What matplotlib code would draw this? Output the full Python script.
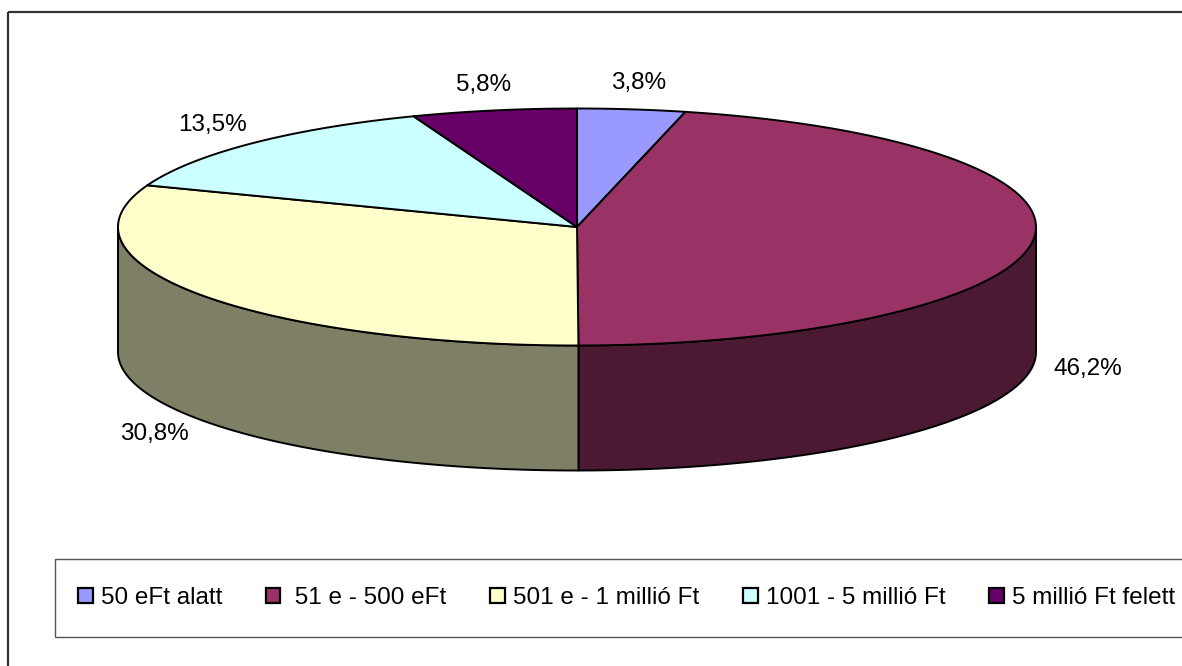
import numpy as np
import matplotlib.pyplot as plt
from matplotlib.patches import Polygon, Rectangle, Patch

plt.rcParams['font.family'] = ['Liberation Sans', 'DejaVu Sans']

# income bands and their shares (%)
categories = ["50 eFt alatt", " 51 e - 500 eFt", "501 e - 1 millió Ft",
              "1001 - 5 millió Ft", "5 millió Ft felett"]
shares = [3.8, 46.2, 30.8, 13.5, 5.8]
colors = ["#9999FF", "#993366", "#FFFFCC", "#CCFFFF", "#660066"]

W, H = 1182, 666
fig = plt.figure(figsize=(W / 100, H / 100), dpi=100)
ax = fig.add_axes([0, 0, 1, 1])
ax.set_xlim(0, W)
ax.set_ylim(H, 0)
ax.axis("off")

# pie geometry in pixels
cx, cy = 577, 227
a, b = 459, 118.5
depth = 125
fs = 17.5


def edge(t):
    t = np.radians(t)
    return cx + a * np.cos(t), cy - b * np.sin(t)


def darker(c):
    r, g, bl = (int(c[i:i + 2], 16) for i in (1, 3, 5))
    return "#%02x%02x%02x" % (r // 2, g // 2, bl // 2)


fracs = np.array(shares) / sum(shares)
bounds = 90 - 360 * np.concatenate([[0], np.cumsum(fracs)])

# side walls (front half only)
for i, c in enumerate(colors):
    t0, t1 = bounds[i], bounds[i + 1]
    for lo, hi in [(-180, 0), (-540, -360)]:
        s, e = min(t0, hi), max(t1, lo)
        if s <= e:
            continue
        t = np.linspace(s, e, 100)
        x, y = edge(t)
        pts = np.column_stack([np.concatenate([x, x[::-1]]),
                               np.concatenate([y, y[::-1] + depth])])
        ax.add_patch(Polygon(pts, closed=True, facecolor=darker(c),
                             edgecolor="black", lw=1.4, joinstyle="round"))

# top faces
for i, c in enumerate(colors):
    t = np.linspace(bounds[i], bounds[i + 1], 200)
    x, y = edge(t)
    pts = np.column_stack([np.concatenate([[cx], x]), np.concatenate([[cy], y])])
    ax.add_patch(Polygon(pts, closed=True, facecolor=c, edgecolor="black",
                         lw=1.4, joinstyle="round"))

# percentage labels
for i, v in enumerate(shares):
    m = np.radians((bounds[i] + bounds[i + 1]) / 2)
    lx = cx + 1.12 * a * np.cos(m)
    ly = cy - 1.22 * b * np.sin(m)
    if np.sin(m) < 0:
        ly += depth
    ax.text(lx, ly, f"{v:.1f}%".replace(".", ","), fontsize=fs,
            ha="center", va="center")

# outer frame and legend box
ax.add_patch(Rectangle((8, 12), W, H, fill=False, edgecolor="#333333", lw=1.6))
ax.add_patch(Rectangle((55, 559), W, 78, fill=False, edgecolor="#555555", lw=1.0))

handles = [Patch(facecolor=c, edgecolor="black", lw=1.6) for c in colors]
leg = ax.legend(handles, categories, ncol=5, frameon=False, fontsize=fs,
                loc="center left", bbox_to_anchor=(78 / W, 1 - 598 / H),
                handlelength=0.6, handleheight=0.6, handletextpad=0.33,
                columnspacing=1.8, borderaxespad=0, borderpad=0)

fig.savefig("out.png", dpi=100)
